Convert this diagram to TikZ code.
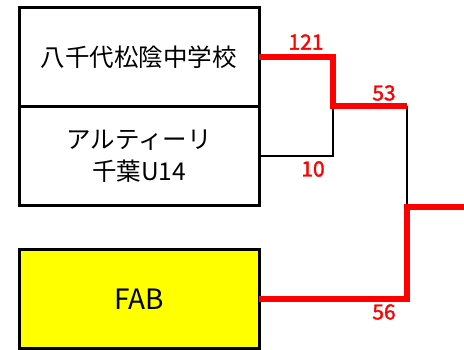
\documentclass[tikz,border=0pt]{standalone}
\usepackage{fontspec}
\setmainfont{Noto Sans CJK JP}
\newfontfamily\scorefont[FakeBold=1.5]{Noto Sans CJK JP}
\usetikzlibrary{positioning}
\definecolor{winred}{RGB}{255,0,0}
\definecolor{teamyellow}{RGB}{255,255,0}

\begin{document}
\begin{tikzpicture}[x=1pt,y=-1pt,
  team/.style={draw=black,line width=3pt,fill=white,minimum width=240pt,minimum height=99pt,
    inner sep=0pt,outer sep=0pt,align=center,font=\fontsize{24.5}{32}\selectfont},
  win/.style={draw=winred,line width=6pt},
  lose/.style={draw=black,line width=2.3pt},
  score/.style={text=winred,inner sep=0pt,font=\scorefont\fontsize{21}{21}\selectfont}]
\useasboundingbox (0,0) rectangle (464,350);
% teams
\node[team] (yachiyo) at (139,57) {八千代松陰中学校};
\node[team] (altiri) at (139,156) {アルティーリ\\千葉U14};
\node[team,fill=teamyellow,font=\fontsize{28}{32}\selectfont] (fab) at (139,299) {FAB};
% junctions
\coordinate (semi) at (333,106);
\coordinate (final) at (407,207);
\coordinate (champ) at (464,207);
% lines
\draw[lose] (altiri.east) -| (semi);
\draw[lose] (semi -| final) -- (final);
\draw[win] (yachiyo.east) -| (semi) -- (semi -| final);
\draw[win] (fab.east) -| (final) -- (champ);
% scores
\node[score] (s121) at (306,42) {121};
\node[score] (s10) at (313,169) {10};
\node[score] (s53) at (384,93) {53};
\node[score] (s56) at (384,312) {56};
\end{tikzpicture}
\end{document}
